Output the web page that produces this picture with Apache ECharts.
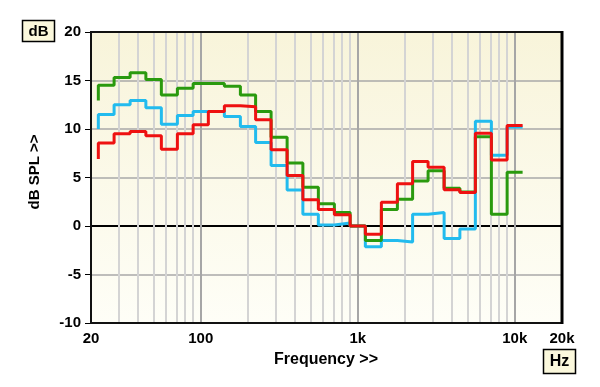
<!DOCTYPE html>
<html>
<head>
<meta charset="utf-8">
<script src="https://cdn.jsdelivr.net/npm/echarts@6/dist/echarts.min.js"></script>
<style>
html,body{margin:0;padding:0;background:#fff;}
#c{width:600px;height:387px;}
</style>
</head>
<body>
<div id="c"></div>
<script>
// 1/3-octave band centres (Hz)
const bands = [25,31.5,40,50,63,80,100,125,160,200,250,315,400,500,630,800,1000,1250,1600,2000,2500,3150,4000,5000,6300,8000,10000];
// band levels, dB SPL
const greenVals = [14.5,15.3,15.8,15.1,13.5,14.2,14.7,14.7,14.4,13.5,11.8,9.15,6.5,4.0,2.3,1.4,0.0,-1.5,1.7,2.75,4.65,5.7,3.9,3.5,9.2,1.2,5.55];
const blueVals  = [11.5,12.5,12.95,12.2,10.5,11.4,11.8,11.8,11.3,10.25,8.6,6.25,3.7,1.2,0.1,0.3,0.0,-2.15,-1.5,-1.65,1.2,1.4,-1.3,-0.3,10.8,7.3,10.2];
const redVals   = [8.55,9.5,9.75,9.3,7.9,9.5,10.45,11.8,12.4,12.3,10.95,7.85,5.2,2.7,1.7,1.15,0.0,-0.85,2.45,4.35,6.65,6.05,3.75,3.45,9.55,6.8,10.35];
// starting level of each trace at the lower edge of the first band
const startVals = {green: 12.95, blue: 10.0, red: 6.9};
// axis ticks
const xLabelVals = [20,100,1000,10000,20000];
const xLabelText = ['20','100','1k','10k','20k'];
const xMajorGrid = [100,1000,10000];
const xMinorGrid = [30,40,50,60,70,80,90,200,300,400,500,600,700,800,900,2000,3000,4000,5000,6000,7000,8000,9000];
const xTickVals = [20,30,40,50,60,70,80,90,100,200,300,400,500,600,700,800,900,1000,2000,3000,4000,5000,6000,7000,8000,9000,10000,20000];
const yMin = -10, yMax = 20, yStep = 5;

const L = Math.log10;
const edges = [];
edges.push(bands[0] / Math.pow(2, 1/6));
for (let i = 0; i < bands.length - 1; i++) edges.push(Math.sqrt(bands[i] * bands[i+1]));
edges.push(bands[bands.length-1] * Math.pow(2, 1/6));

function stepData(vals, start) {
  const d = [[L(edges[0]), start]];
  for (let i = 0; i < vals.length; i++) {
    d.push([L(edges[i]), vals[i]]);
    d.push([L(edges[i+1]), vals[i]]);
  }
  return d;
}

const labelMap = {};
xLabelVals.forEach((v, i) => { labelMap[L(v).toFixed(6)] = xLabelText[i]; });

const gridLines = [];
xMinorGrid.forEach(v => gridLines.push({xAxis: L(v), lineStyle: {color: '#d4d4d4', width: 2, type: 'solid'}}));
xMajorGrid.forEach(v => gridLines.push({xAxis: L(v), lineStyle: {color: '#a6a6a6', width: 2, type: 'solid'}}));

const chart = echarts.init(document.getElementById('c'), null, {renderer: 'canvas'});
const FF = 'Liberation Sans, Arial, sans-serif';
const bold = {fontFamily: FF, fontWeight: 'bold', color: '#000'};

chart.setOption({
  animation: false,
  backgroundColor: '#fff',
  grid: {
    left: 91, top: 32, right: 38, bottom: 64,
    show: true,
    borderWidth: 0,
    backgroundColor: {type: 'linear', x: 0, y: 0, x2: 0, y2: 1,
      colorStops: [{offset: 0, color: '#f8f4da'}, {offset: 1, color: '#fefef7'}]}
  },
  xAxis: {
    type: 'value',
    min: L(20), max: L(20000),
    axisLine: {show: true, lineStyle: {color: '#000', width: 2}},
    axisTick: {show: true, length: 4, lineStyle: {color: '#000', width: 1}, customValues: xTickVals.map(L)},
    axisLabel: Object.assign({fontSize: 15, margin: 8, customValues: xLabelVals.map(L),
      formatter: v => labelMap[Number(v).toFixed(6)] || ''}, bold),
    splitLine: {show: false}
  },
  yAxis: {
    type: 'value',
    min: yMin, max: yMax, interval: yStep,
    axisLine: {show: true, lineStyle: {color: '#000', width: 2}},
    axisTick: {show: true, length: 6, lineStyle: {color: '#000', width: 1}},
    axisLabel: Object.assign({fontSize: 15, margin: 10}, bold),
    splitLine: {show: true, lineStyle: {color: '#a8a8a8', width: 1.5}}
  },
  series: [
    {type: 'line', data: [], z: 1, silent: true,
     markLine: {z: 1, silent: true, symbol: ['none','none'], label: {show: false}, animation: false, data: gridLines}},
    {type: 'line', name: 'blue', data: stepData(blueVals, startVals.blue), showSymbol: false, z: 3,
     lineStyle: {color: '#22bbee', width: 3}, itemStyle: {color: '#22bbee'}},
    {type: 'line', name: 'green', data: stepData(greenVals, startVals.green), showSymbol: false, z: 4,
     lineStyle: {color: '#2a9a0e', width: 3}, itemStyle: {color: '#2a9a0e'}},
    {type: 'line', name: 'red', data: stepData(redVals, startVals.red), showSymbol: false, z: 5,
     lineStyle: {color: '#ee1111', width: 3}, itemStyle: {color: '#ee1111'}}
  ],
  graphic: [
    {type: 'rect', shape: {x: 91, y: 32, width: 471, height: 291}, z: 10, silent: true,
     style: {fill: null, stroke: '#111', lineWidth: 2}},
    {type: 'line', shape: {x1: 562, y1: 31, x2: 562, y2: 324}, z: 10, silent: true,
     style: {stroke: '#000', lineWidth: 3}},
    {type: 'rect', shape: {x: 22.5, y: 20.5, width: 32, height: 21}, z: 10,
     style: {fill: '#fbf8dc', stroke: '#000', lineWidth: 1.5}},
    {type: 'text', x: 38.5, y: 31.5, z: 11,
     style: {text: 'dB', fontSize: 15, align: 'center', verticalAlign: 'middle', fill: '#000', fontFamily: FF, fontWeight: 'bold'}},
    {type: 'rect', shape: {x: 543.5, y: 349.5, width: 32, height: 24}, z: 10,
     style: {fill: '#fbf8dc', stroke: '#000', lineWidth: 1.5}},
    {type: 'text', x: 559.5, y: 362, z: 11,
     style: {text: 'Hz', fontSize: 16, align: 'center', verticalAlign: 'middle', fill: '#000', fontFamily: FF, fontWeight: 'bold'}},
    {type: 'text', x: 326, y: 360, z: 11,
     style: {text: 'Frequency >>', fontSize: 16, align: 'center', verticalAlign: 'middle', fill: '#000', fontFamily: FF, fontWeight: 'bold'}},
    {type: 'text', x: 35, y: 172, rotation: Math.PI/2, z: 11,
     style: {text: 'dB SPL >>', fontSize: 15, align: 'center', verticalAlign: 'middle', fill: '#000', fontFamily: FF, fontWeight: 'bold'}}
  ]
});
</script>
</body>
</html>
